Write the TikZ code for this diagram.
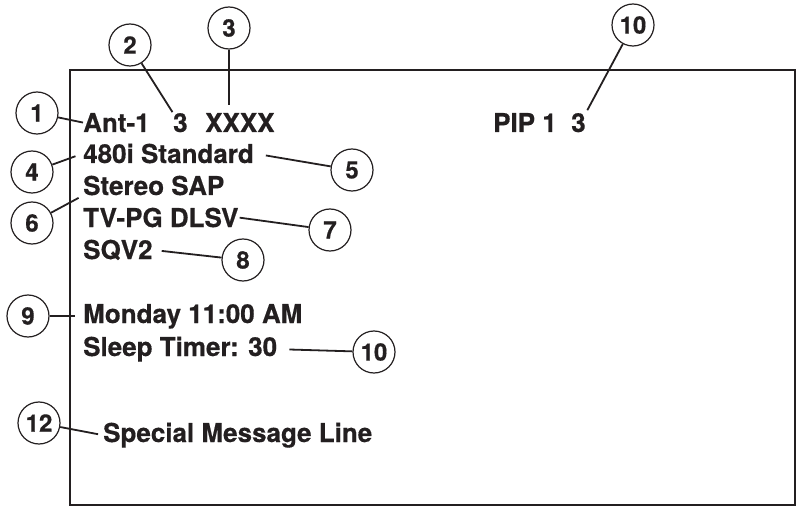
\documentclass[tikz,border=0pt]{standalone}
\usepackage{fontspec}
\setmainfont{TeX Gyre Heros}
\newfontfamily\osdfont{texgyreheros-bold.otf}[FakeBold=0.5]
\usetikzlibrary{calc}
\definecolor{ink}{RGB}{35,31,32}
\tikzset{
  callout/.style={circle,draw=ink,text=ink,line width=1.2pt,minimum size=42pt,inner sep=0pt,font=\osdfont\fontsize{24}{24}\selectfont},
  osd/.style={anchor=base west,inner sep=0pt,text=ink,font=\osdfont\fontsize{26}{30}\selectfont},
  lead/.style={draw=ink,line width=1.8pt},
  screen/.style={draw=ink,line width=2.2pt}
}
\begin{document}
\begin{tikzpicture}[x=1pt,y=-1pt]
\useasboundingbox (0,0) rectangle (804,508);
\draw[screen] (70,70) rectangle (795,505);
% on-screen lines
\node[osd] (ant) at (83,132) {Ant-1};
\node[osd] (ch) at (173,132) {3};
\node[osd] (name) at (205,132) {XXXX};
\node[osd] (pip) at (493,132) {PIP 1\ \ 3};
\node[osd] (std) at (83,163) {480i Standard};
\node[osd] (sap) at (83,195) {Stereo SAP};
\node[osd] (tv) at (83,227) {TV-PG DLSV};
\node[osd] (sqv) at (83,259) {SQV2};
\node[osd] (mon) at (83,323) {Monday 11:00 AM};
\node[osd] (sleep) at (83,356) {Sleep Timer: 30};
\node[osd] (msg) at (103,442) {Special Message Line};
% callouts
\foreach \i/\t/\x/\y in {1/1/37/113,2/2/130/45,3/3/229/28,4/4/32/172,5/5/352/170,6/6/32/223,7/7/330/230,8/8/243/260,9/9/28/316,10a/10/633/25,10b/10/374/352,12/12/39/423}{\node[callout] (c\i) at (\x,\y) {\t};}
\draw[lead] (c1) -- (ant.west);
\draw[lead,shorten >=1pt] (c2) -- (ch.north west);
\draw[lead,shorten >=8pt] (c3) -- (c3 |- name.north);
\draw[lead,shorten >=8pt] (c4) -- (std.west);
\draw[lead,shorten <=12pt] (std.east) -- (c5);
\draw[lead,shorten >=5pt] (c6) -- (sap.south west);
\draw[lead,shorten <=1pt] (tv.east) -- (c7);
\draw[lead,shorten <=9pt] (sqv.east) -- (c8);
\draw[lead,shorten >=8pt] (c9) -- (c9 -| mon.west);
\draw[lead,shorten <=12pt] (sleep.east) -- (c10b);
\draw[lead,shorten >=3pt] (c10a) -- (pip.north east);
\draw[lead,shorten >=5pt] (c12) -- (msg.west);
\end{tikzpicture}
\end{document}
